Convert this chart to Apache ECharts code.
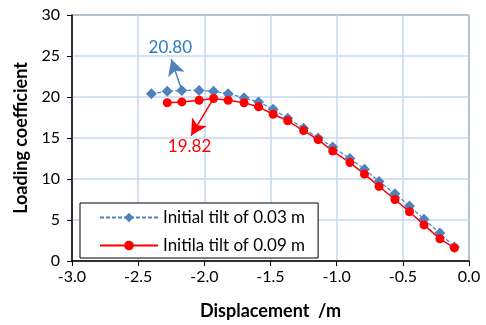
<!DOCTYPE html>
<html>
<head>
<meta charset="utf-8">
<script src="https://cdn.jsdelivr.net/npm/echarts@6/dist/echarts.min.js"></script>
<style>
  html, body { margin: 0; padding: 0; background: #fff; }
  #chart { width: 486px; height: 325px; }
</style>
</head>
<body>
<div id="chart"></div>
<script>
// data
const xTilt003 = [-2.40, -2.28, -2.17, -2.04, -1.93, -1.82, -1.70, -1.59, -1.48, -1.37, -1.25,
  -1.14, -1.03, -0.90, -0.79, -0.68, -0.56, -0.45, -0.34, -0.22, -0.11];
const yTilt003 = [20.4, 20.7, 20.8, 20.8, 20.7, 20.4, 19.9, 19.4, 18.5, 17.4, 16.2,
  15.0, 13.9, 12.5, 11.2, 9.7, 8.2, 6.7, 5.1, 3.4, 1.7];
const xTilt009 = [-2.28, -2.17, -2.04, -1.93, -1.82, -1.70, -1.59, -1.48, -1.37, -1.25,
  -1.14, -1.03, -0.90, -0.79, -0.68, -0.56, -0.45, -0.34, -0.22, -0.11];
const yTilt009 = [19.3, 19.4, 19.6, 19.82, 19.6, 19.3, 18.8, 17.9, 17.1, 15.9,
  14.8, 13.4, 12.0, 10.6, 9.1, 7.5, 6.0, 4.4, 2.7, 1.6];
const seriesNames = ["Initial tilt of 0.03 m", "Initila tilt of 0.09 m"];
const peakBlue = { at: [-2.17, 20.8], tip: [-2.25, 24.6], text: "20.80" };
const peakRed = { at: [-1.93, 19.82], tip: [-2.10, 15.3], text: "19.82" };

const FONT = "Lato, 'Open Sans', sans-serif";
const BLUE = "#4f81bd";
const RED = "#ff0000";

function pairs(xs, ys) {
  return xs.map((x, i) => [x, ys[i]]);
}

function arrow(p, color, labelColor) {
  return {
    silent: true,
    symbol: ["none", "arrow"],
    symbolSize: [13, 16],
    lineStyle: { color: color, width: 1.5, type: "solid" },
    label: {
      show: true,
      position: "end",
      distance: 3,
      formatter: p.text,
      color: labelColor,
      fontSize: 17,
      fontFamily: FONT,
    },
    data: [[{ coord: p.at }, { coord: p.tip }]],
  };
}

const chart = echarts.init(document.getElementById("chart"), null, { renderer: "canvas" });
chart.setOption({
  animation: false,
  textStyle: { fontFamily: FONT },
  grid: {
    left: 72, right: 17, top: 15, bottom: 62,
    show: true, borderColor: "#000", borderWidth: 1, backgroundColor: "transparent",
  },
  legend: {
    orient: "vertical",
    left: 80,
    top: 203,
    padding: [5, 13, 3, 19],
    itemWidth: 58,
    itemHeight: 12,
    itemGap: 9,
    borderColor: "#000",
    borderWidth: 1,
    backgroundColor: "#fff",
    textStyle: { color: "#000", fontSize: 17, lineHeight: 19, fontFamily: FONT },
    data: seriesNames,
  },
  xAxis: {
    type: "value",
    min: -3,
    max: 0,
    interval: 0.5,
    name: "Displacement  /m",
    nameLocation: "middle",
    nameGap: 41,
    nameTextStyle: { color: "#000", fontSize: 18, fontWeight: "bold", fontFamily: FONT },
    axisLine: { onZero: false, lineStyle: { color: "#000", width: 1.5 } },
    axisTick: { show: true, length: 5, lineStyle: { color: "#000" } },
    axisLabel: { color: "#000", fontSize: 16, margin: 8, formatter: v => v.toFixed(1) },
    splitLine: { show: true, lineStyle: { color: "#c6d9f1", width: 1.5 } },
  },
  yAxis: {
    type: "value",
    min: 0,
    max: 30,
    interval: 5,
    name: "Loading coefficient",
    nameLocation: "middle",
    nameGap: 38,
    nameTextStyle: { color: "#000", fontSize: 18, fontWeight: "bold", fontFamily: FONT },
    axisLine: { show: true, onZero: false, lineStyle: { color: "#000", width: 1.5 } },
    axisTick: { show: true, length: 5, lineStyle: { color: "#000" } },
    axisLabel: { color: "#000", fontSize: 16, margin: 12 },
    splitLine: { show: true, lineStyle: { color: "#c6d9f1", width: 1.5 } },
  },
  series: [
    {
      name: seriesNames[0],
      type: "line",
      data: pairs(xTilt003, yTilt003),
      symbol: "diamond",
      symbolSize: 11,
      itemStyle: { color: BLUE },
      lineStyle: { color: BLUE, width: 1.2, type: [4, 2] },
      markLine: arrow(peakBlue, BLUE, "#2e7bc4"),
    },
    {
      name: seriesNames[1],
      type: "line",
      data: pairs(xTilt009, yTilt009),
      symbol: "circle",
      symbolSize: 9,
      itemStyle: { color: RED },
      lineStyle: { color: RED, width: 1.5 },
      markLine: arrow(peakRed, RED, RED),
    },
  ],
});
</script>
</body>
</html>
